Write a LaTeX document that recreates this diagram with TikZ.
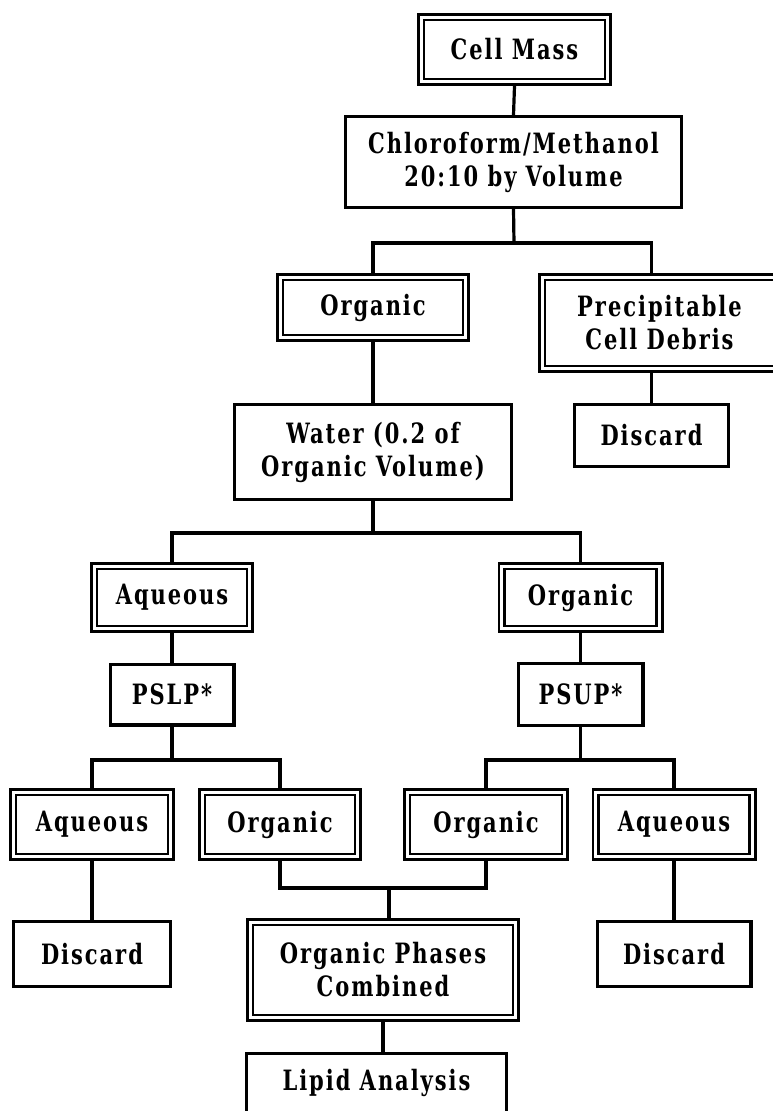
\documentclass[tikz,border=0pt]{standalone}
\usepackage{fontspec}
\newfontfamily\boxfont{DejaVu Serif}[FakeStretch=0.75, LetterSpace=7]
\begin{document}
\begin{tikzpicture}[x=1pt,y=-1pt,
  txt/.style={align=center, inner sep=0pt,
    font=\boxfont\bfseries\fontsize{28}{33}\selectfont},
  sbox/.style={txt, draw, line width=3.3pt, outer sep=1.6pt},
  dbox/.style={txt, draw, line width=2.8pt, double, double distance=2.8pt, outer sep=4.2pt},
  link/.style={line width=3.2pt}]
\useasboundingbox (0,0) rectangle (773,1111);
\clip (0,0) rectangle (773,1111);

% boxes
\node[dbox, minimum width=186.6pt, minimum height=64.6pt] (cell)  at (514.5,49.5) {Cell Mass};
\node[sbox, minimum width=335.7pt, minimum height=90.7pt] (chl)   at (513.5,162)  {Chloroform/Methanol\\20:10 by Volume};
\node[dbox, minimum width=185.6pt, minimum height=60.6pt] (org1)  at (373,307.5)  {Organic};
\node[dbox, minimum width=234.6pt, minimum height=91.6pt] (prec)  at (659.5,323)  {Precipitable\\Cell Debris};
\node[sbox, minimum width=153.7pt, minimum height=61.7pt] (dis1)  at (651.5,435.5) {Discard};
\node[sbox, minimum width=276.7pt, minimum height=94.7pt] (water) at (373,452)    {Water (0.2 of\\Organic Volume)};
\node[dbox, minimum width=155.6pt, minimum height=62.6pt] (aq1)   at (172,597.5)  {Aqueous};
\node[dbox, minimum width=157.6pt, minimum height=62.6pt] (org2)  at (580.5,597.5) {Organic};
\node[sbox, minimum width=123.7pt, minimum height=60.7pt] (pslp)  at (172,694.5)  {PSLP*};
\node[sbox, minimum width=124.7pt, minimum height=61.7pt] (psup)  at (580.5,694.5) {PSUP*};
\node[dbox, minimum width=157.6pt, minimum height=64.6pt] (aqL)   at (92,824.5)   {Aqueous};
\node[dbox, minimum width=155.6pt, minimum height=64.6pt] (orgL)  at (280,824.5)  {Organic};
\node[dbox, minimum width=157.6pt, minimum height=64.6pt] (orgR)  at (486,824.5)  {Organic};
\node[dbox, minimum width=156.6pt, minimum height=64.6pt] (aqR)   at (674,824.5)  {Aqueous};
\node[sbox, minimum width=156.7pt, minimum height=64.7pt] (disL)  at (92,954)     {Discard};
\node[sbox, minimum width=153.7pt, minimum height=64.7pt] (disR)  at (674,954)    {Discard};
\node[dbox, minimum width=265.6pt, minimum height=95.6pt] (comb)  at (383,970)    {Organic Phases\\Combined};
\node[sbox, minimum width=259.7pt, minimum height=58.7pt] (lipid) at (376.5,1083) {Lipid Analysis};

% branch points
\coordinate (j1) at (514,243);
\coordinate (j2) at (373,533);
\coordinate (j3) at (172,760);
\coordinate (j4) at (580.5,760);
\coordinate (j5) at (389,888);

% connectors
\draw[link] (cell.south) -- (chl.north);
\draw[link] (chl.south) -- (j1);
\draw[link] (org1.north) |- (j1) -| (dis1 |- prec.north);
\draw[link] (dis1 |- prec.south) -- (dis1.north);
\draw[link] (org1.south) -- (water.north);
\draw[link] (water.south) -- (j2);
\draw[link] (aq1.north) |- (j2) -| (org2.north);
\draw[link] (aq1.south) -- (pslp.north);
\draw[link] (org2.south) -- (psup.north);
\draw[link] (pslp.south) -- (j3);
\draw[link] (aqL.north) |- (j3) -| (orgL.north);
\draw[link] (psup.south) -- (j4);
\draw[link] (orgR.north) |- (j4) -| (aqR.north);
\draw[link] (aqL.south) -- (disL.north);
\draw[link] (aqR.south) -- (disR.north);
\draw[link] (orgL.south) |- (j5) -| (orgR.south);
\draw[link] (j5) -- (j5 |- comb.north);
\draw[link] (comb.south) -- (comb.south |- lipid.north);
\end{tikzpicture}
\end{document}
